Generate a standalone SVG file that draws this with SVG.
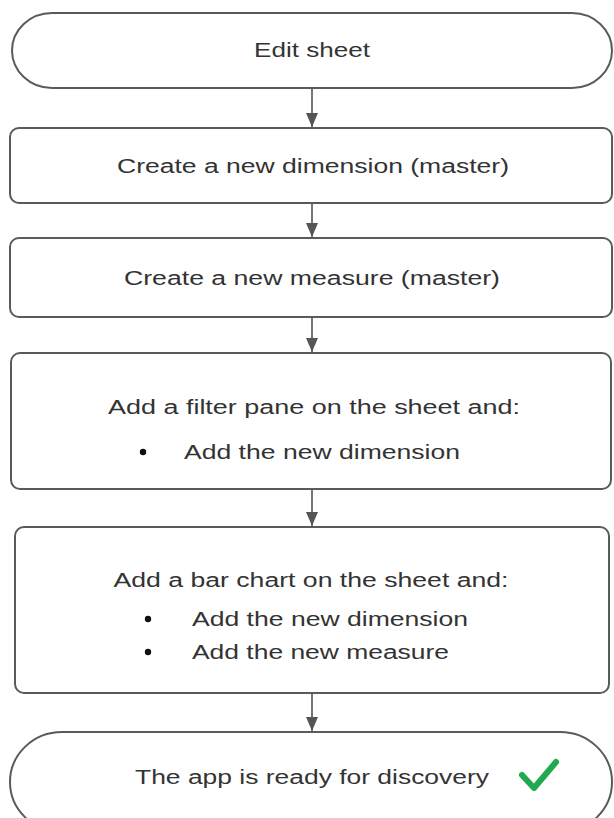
<svg xmlns="http://www.w3.org/2000/svg" width="614" height="818" viewBox="0 0 614 818">
<defs>
<marker id="ah" viewBox="0 0 14 12" refX="14" refY="6" markerWidth="14" markerHeight="12" markerUnits="userSpaceOnUse" orient="auto">
<path d="M0,0 L14,6 L0,12 Z" fill="#555"/>
</marker>
<style>
.box{fill:#fff;stroke:#5a5a5a;stroke-width:2}
.t{font-family:"Liberation Sans",Arial,sans-serif;font-size:20px;fill:#333}
.c{text-anchor:middle}
.edge{stroke:#555;stroke-width:1.6;fill:none;marker-end:url(#ah)}
.bul{fill:#111}
</style>
</defs>
<rect width="614" height="818" fill="#fff"/>
<g id="connectors">
<line class="edge" x1="312" y1="88" x2="312" y2="127"/>
<line class="edge" x1="312" y1="203" x2="312" y2="237"/>
<line class="edge" x1="312" y1="317" x2="312" y2="352"/>
<line class="edge" x1="312" y1="490" x2="312" y2="526"/>
<line class="edge" x1="312" y1="693" x2="312" y2="731"/>
</g>
<g id="n1">
<rect class="box" x="12" y="13" width="600" height="75" rx="40" ry="37.5"/>
<text class="t c" x="312" y="57" textLength="116" lengthAdjust="spacingAndGlyphs">Edit sheet</text>
</g>
<g id="n2">
<rect class="box" x="10" y="128" width="602" height="75" rx="9"/>
<text class="t c" x="313" y="173" textLength="392" lengthAdjust="spacingAndGlyphs">Create a new dimension (master)</text>
</g>
<g id="n3">
<rect class="box" x="10" y="238" width="602" height="79" rx="9"/>
<text class="t c" x="312" y="285" textLength="376" lengthAdjust="spacingAndGlyphs">Create a new measure (master)</text>
</g>
<g id="n4">
<rect class="box" x="11" y="353" width="600" height="136" rx="9"/>
<text class="t c" x="314" y="414" textLength="412" lengthAdjust="spacingAndGlyphs">Add a filter pane on the sheet and:</text>
<circle class="bul" cx="143" cy="452" r="3.2"/>
<text class="t" x="184" y="459" textLength="276" lengthAdjust="spacingAndGlyphs">Add the new dimension</text>
</g>
<g id="n5">
<rect class="box" x="15" y="527" width="594" height="166" rx="9"/>
<text class="t c" x="311" y="587" textLength="395" lengthAdjust="spacingAndGlyphs">Add a bar chart on the sheet and:</text>
<circle class="bul" cx="148" cy="619" r="3.2"/>
<text class="t" x="192" y="626" textLength="276" lengthAdjust="spacingAndGlyphs">Add the new dimension</text>
<circle class="bul" cx="148" cy="652" r="3.2"/>
<text class="t" x="192" y="659" textLength="257" lengthAdjust="spacingAndGlyphs">Add the new measure</text>
</g>
<g id="n6">
<rect class="box" x="10" y="732" width="602" height="100" rx="52" ry="50"/>
<text class="t" x="135" y="784" textLength="354" lengthAdjust="spacingAndGlyphs">The app is ready for discovery</text>
<path d="M522,775 L534,788 L556,762" fill="none" stroke="#1faa50" stroke-width="6" stroke-linecap="round" stroke-linejoin="round"/>
</g>
</svg>
